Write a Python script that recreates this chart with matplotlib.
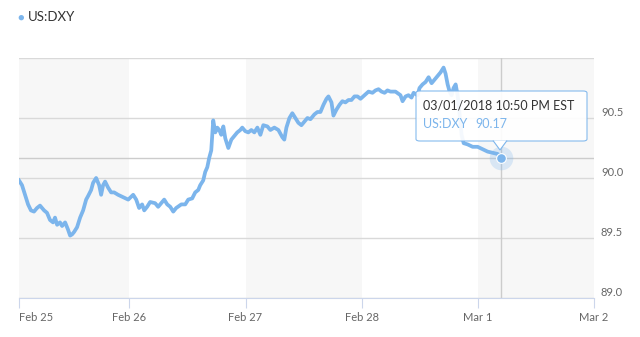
#!/usr/bin/env python3

# plot.py - US:DXY intraday chart, Feb 25 - Mar 2 2018

import matplotlib
matplotlib.use('Agg')
import matplotlib.pyplot as plt
from matplotlib.patches import FancyBboxPatch, Polygon

plt.rcParams['font.family'] = ['Lato', 'DejaVu Sans']

# days since Feb 25 00:00 and index value
days = [0.050, 0.076, 0.102, 0.128, 0.153, 0.179, 0.205, 0.231, 0.266, 0.291,
        0.317, 0.343, 0.360, 0.378, 0.403, 0.421, 0.447, 0.472, 0.490, 0.507,
        0.524, 0.550, 0.576, 0.602, 0.628, 0.645, 0.671, 0.688, 0.714, 0.740,
        0.757, 0.774, 0.791, 0.817, 0.843, 0.869, 0.903, 0.947, 0.990, 1.033,
        1.059, 1.084, 1.110, 1.128, 1.153, 1.179, 1.222, 1.248, 1.274, 1.300,
        1.326, 1.352, 1.378, 1.403, 1.447, 1.481, 1.507, 1.541, 1.567, 1.593,
        1.610, 1.636, 1.653, 1.671, 1.688, 1.705, 1.714, 1.722, 1.740, 1.757,
        1.774, 1.791, 1.809, 1.826, 1.852, 1.878, 1.903, 1.929, 1.955, 1.972,
        1.998, 2.024, 2.050, 2.076, 2.102, 2.128, 2.153, 2.188, 2.214, 2.248,
        2.283, 2.317, 2.334, 2.352, 2.378, 2.403, 2.429, 2.455, 2.481, 2.507,
        2.533, 2.559, 2.593, 2.619, 2.645, 2.671, 2.697, 2.714, 2.740, 2.757,
        2.783, 2.809, 2.834, 2.860, 2.886, 2.912, 2.938, 2.964, 2.990, 3.024,
        3.059, 3.093, 3.119, 3.145, 3.171, 3.197, 3.222, 3.248, 3.291, 3.334,
        3.352, 3.378, 3.403, 3.429, 3.447, 3.481, 3.498, 3.524, 3.550, 3.576,
        3.602, 3.628, 3.653, 3.679, 3.705, 3.722, 3.740, 3.757, 3.774, 3.791,
        3.809, 3.826, 3.843, 3.860, 3.878, 3.912, 3.955, 3.998, 4.041, 4.084,
        4.128, 4.171, 4.197]
dxy = [89.98, 89.94, 89.86, 89.78, 89.73, 89.72, 89.75, 89.77, 89.73, 89.71,
       89.65, 89.63, 89.67, 89.61, 89.63, 89.60, 89.63, 89.57, 89.52, 89.53,
       89.55, 89.59, 89.67, 89.73, 89.82, 89.85, 89.90, 89.96, 90.00, 89.94,
       89.86, 89.94, 89.97, 89.92, 89.88, 89.88, 89.86, 89.84, 89.82, 89.86,
       89.82, 89.75, 89.78, 89.73, 89.76, 89.80, 89.79, 89.76, 89.79, 89.82,
       89.78, 89.76, 89.72, 89.75, 89.78, 89.78, 89.82, 89.83, 89.88, 89.90,
       89.94, 89.98, 90.05, 90.09, 90.17, 90.23, 90.36, 90.48, 90.38, 90.42,
       90.40, 90.36, 90.43, 90.33, 90.25, 90.32, 90.35, 90.38, 90.40, 90.42,
       90.39, 90.38, 90.40, 90.38, 90.42, 90.36, 90.44, 90.43, 90.40, 90.42,
       90.40, 90.34, 90.32, 90.42, 90.50, 90.54, 90.50, 90.46, 90.44, 90.47,
       90.50, 90.49, 90.53, 90.55, 90.55, 90.61, 90.66, 90.68, 90.63, 90.52,
       90.57, 90.61, 90.64, 90.63, 90.65, 90.65, 90.68, 90.68, 90.66, 90.69,
       90.72, 90.71, 90.73, 90.74, 90.72, 90.71, 90.73, 90.72, 90.72, 90.69,
       90.64, 90.68, 90.69, 90.67, 90.71, 90.69, 90.75, 90.78, 90.80, 90.84,
       90.79, 90.82, 90.85, 90.88, 90.92, 90.87, 90.78, 90.72, 90.69, 90.75,
       90.78, 90.69, 90.53, 90.36, 90.29, 90.28, 90.26, 90.26, 90.24, 90.22,
       90.21, 90.20, 90.17]

tick_pos = [0.05, 1, 2, 3, 4, 5]
tick_labels = ['Feb 25', 'Feb 26', 'Feb 27', 'Feb 28', 'Mar 1', 'Mar 2']
y_ticks = [89.0, 89.5, 90.0, 90.5, 91.0]
hover_label = '03/01/2018 10:50 PM EST'
series_name = 'US:DXY'

W, H = 640, 337
fig = plt.figure(figsize=(W / 100, H / 100), dpi=100)
ax = fig.add_axes([19 / W, (H - 298) / H, 575 / W, 240 / H])
ax.set_xlim(0.05, 5.0)
ax.set_ylim(89.0, 91.0)

# alternating day bands
for d0 in [0, 2, 4]:
    ax.axvspan(max(d0, 0.05), d0 + 1, color='#f7f7f7', zorder=0, lw=0)

for y in y_ticks:
    ax.axhline(y, color='#d9d9d9', lw=1, zorder=1)

ax.plot(days, dxy, color='#7cb5ec', lw=2.7, zorder=3, solid_joinstyle='round')

# crosshair on hovered point
hx, hy = days[-1], dxy[-1]
ax.axvline(hx, color='#cccccc', lw=1, zorder=2)
ax.axhline(hy, color='#cccccc', lw=1, zorder=2)
ax.plot([hx], [hy], 'o', ms=17, color='#7cb5ec', alpha=0.25, mec='none', zorder=4)
ax.plot([hx], [hy], 'o', ms=7, color='#7cb5ec', mec='white', mew=0.8, zorder=5)

for s in ['top', 'left', 'right']:
    ax.spines[s].set_visible(False)
ax.spines['bottom'].set_color('#ccd6eb')
ax.set_xticks(tick_pos)
ax.set_xticklabels(tick_labels)
ax.get_xticklabels()[0].set_horizontalalignment('left')
ax.tick_params(axis='x', length=7, color='#ccd6eb', labelsize=8, labelcolor='#666666', pad=3)

ax.yaxis.tick_right()
ax.set_yticks(y_ticks[:-1])
ax.set_yticklabels(['%.1f' % v for v in y_ticks[:-1]])
ax.tick_params(axis='y', length=0, labelsize=8, labelcolor='#666666', pad=5)
for t in ax.get_yticklabels():
    t.set_verticalalignment('bottom')

# legend
fig.text(21 / W, 1 - 17 / H, '\u25cf', color='#7cb5ec', fontsize=8, ha='center', va='center')
fig.text(28 / W, 1 - 17 / H, series_name, color='#333333', fontsize=9.5, va='center')

# tooltip
bx0, by0, bx1, by1 = 416, 91, 587, 141
box = FancyBboxPatch((bx0 / W, 1 - by1 / H), (bx1 - bx0) / W, (by1 - by0) / H,
                     boxstyle='round,pad=0,rounding_size=0.006', transform=fig.transFigure,
                     fc='white', ec='#7cb5ec', lw=0.8, alpha=0.92, zorder=10)
fig.add_artist(box)
tri = Polygon([[(500 - 7) / W, 1 - (by1 - 0.5) / H], [500 / W, 1 - 150 / H],
               [(500 + 7) / W, 1 - (by1 - 0.5) / H]], closed=False, transform=fig.transFigure,
              fc='white', ec='#7cb5ec', lw=0.8, zorder=11)
fig.add_artist(tri)
fig.text(423 / W, 1 - 105 / H, hover_label, color='#333333', fontsize=9, va='center', zorder=12)
fig.text(423 / W, 1 - 124 / H, series_name, color='#7cb5ec', fontsize=9, va='center', zorder=12)
fig.text(475 / W, 1 - 124 / H, '%.2f' % hy, color='#7cb5ec', fontsize=9, va='center', zorder=12)

plt.savefig('out.png', dpi=100)
